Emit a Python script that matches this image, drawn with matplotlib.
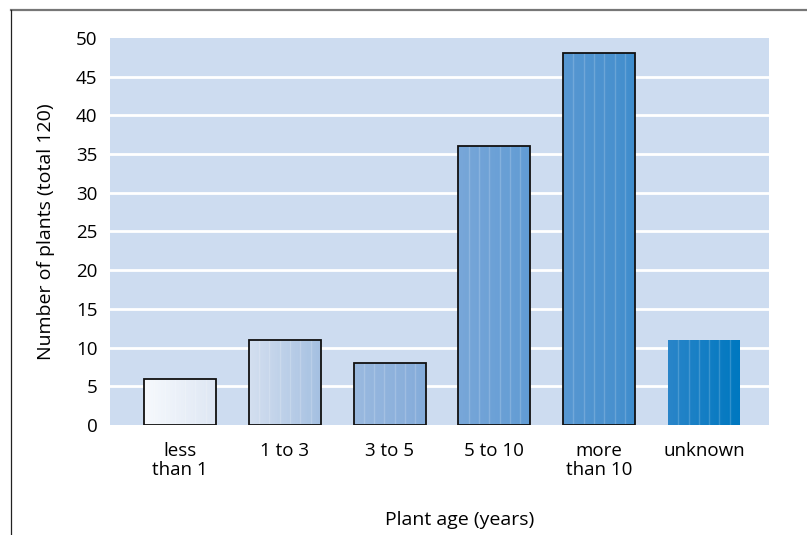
import matplotlib
matplotlib.use("Agg")
import matplotlib.pyplot as plt
import numpy as np
from matplotlib.colors import LinearSegmentedColormap
from matplotlib.lines import Line2D

categories = ["less\nthan 1", "1 to 3", "3 to 5", "5 to 10", "more\nthan 10", "unknown"]
counts = [6, 11, 8, 36, 48, 11]
yticks = [0, 5, 10, 15, 20, 25, 30, 35, 40, 45, 50]

plt.rcParams['font.family'] = ['Open Sans', 'DejaVu Sans']

fig = plt.figure(figsize=(8.07, 5.35), dpi=100)
ax = fig.add_axes([0.1363, 0.2056, 0.8166, 0.7234])
ax.set_facecolor('#cddcf0')

cmap = LinearSegmentedColormap.from_list('g', [
    (0.0, '#f6f9fd'), (0.18, '#d2deef'), (0.3, '#a3bfe1'), (0.45, '#88aedb'),
    (0.6, '#6aa0d6'), (0.8, '#4790ce'), (0.88, '#2a85c9'), (1.0, '#0078c0')])

x = np.arange(len(categories))
width = 0.687
xlim = (-0.668, len(categories) - 1 + 0.62)
ax.set_xlim(*xlim)
ax.set_ylim(0, 50)

for v in yticks[1:-1]:
    ax.axhline(v, color='white', lw=2, zorder=1)

gx0 = x[0] - width / 2
gx1 = x[-1] + width / 2
for i, (xi, h) in enumerate(zip(x, counts)):
    last = i == len(categories) - 1
    bar = ax.bar(xi, h, width=width, color='none',
                 edgecolor='none' if last else '#111111', lw=1.3, zorder=4)[0]
    x0, x1 = xi - width / 2, xi + width / 2
    xs = np.linspace(x0, x1, 100)
    frac = (xs - gx0) / (gx1 - gx0)
    im = ax.imshow(frac[None, :], cmap=cmap, vmin=0, vmax=1, aspect='auto',
                   extent=[x0, x1, 0, h], zorder=3, interpolation='bilinear')
    clip = plt.Rectangle((x0, 0), width, h, transform=ax.transData)
    im.set_clip_path(clip)
    for s in np.linspace(x0, x1, 8)[1:-1]:
        ax.add_line(Line2D([s, s], [0, h], color='white', alpha=0.18, lw=1, zorder=3.5))

ax.set_xlim(*xlim)
ax.set_ylim(0, 50)
ax.set_yticks(yticks)
ax.set_xticks(x)
ax.set_xticklabels(categories, fontsize=13.5, linespacing=1.1)
ax.tick_params(axis='both', length=0, labelsize=13.5)
ax.tick_params(axis='x', pad=12)
ax.tick_params(axis='y', pad=9)
for sp in ax.spines.values():
    sp.set_visible(False)

ax.set_ylabel("Number of plants (total 120)", fontsize=14, labelpad=15)
fig.text(460 / 807, 1 - 520 / 535, "Plant age (years)", fontsize=14, ha='center', va='center')

fig.add_artist(Line2D([11 / 807, 1], [1 - 10 / 535, 1 - 10 / 535], color='#777777', lw=1.6, transform=fig.transFigure))
fig.add_artist(Line2D([11 / 807, 11 / 807], [0, 1 - 10 / 535], color='#222222', lw=0.9, transform=fig.transFigure))

fig.savefig('out.png', dpi=100)
